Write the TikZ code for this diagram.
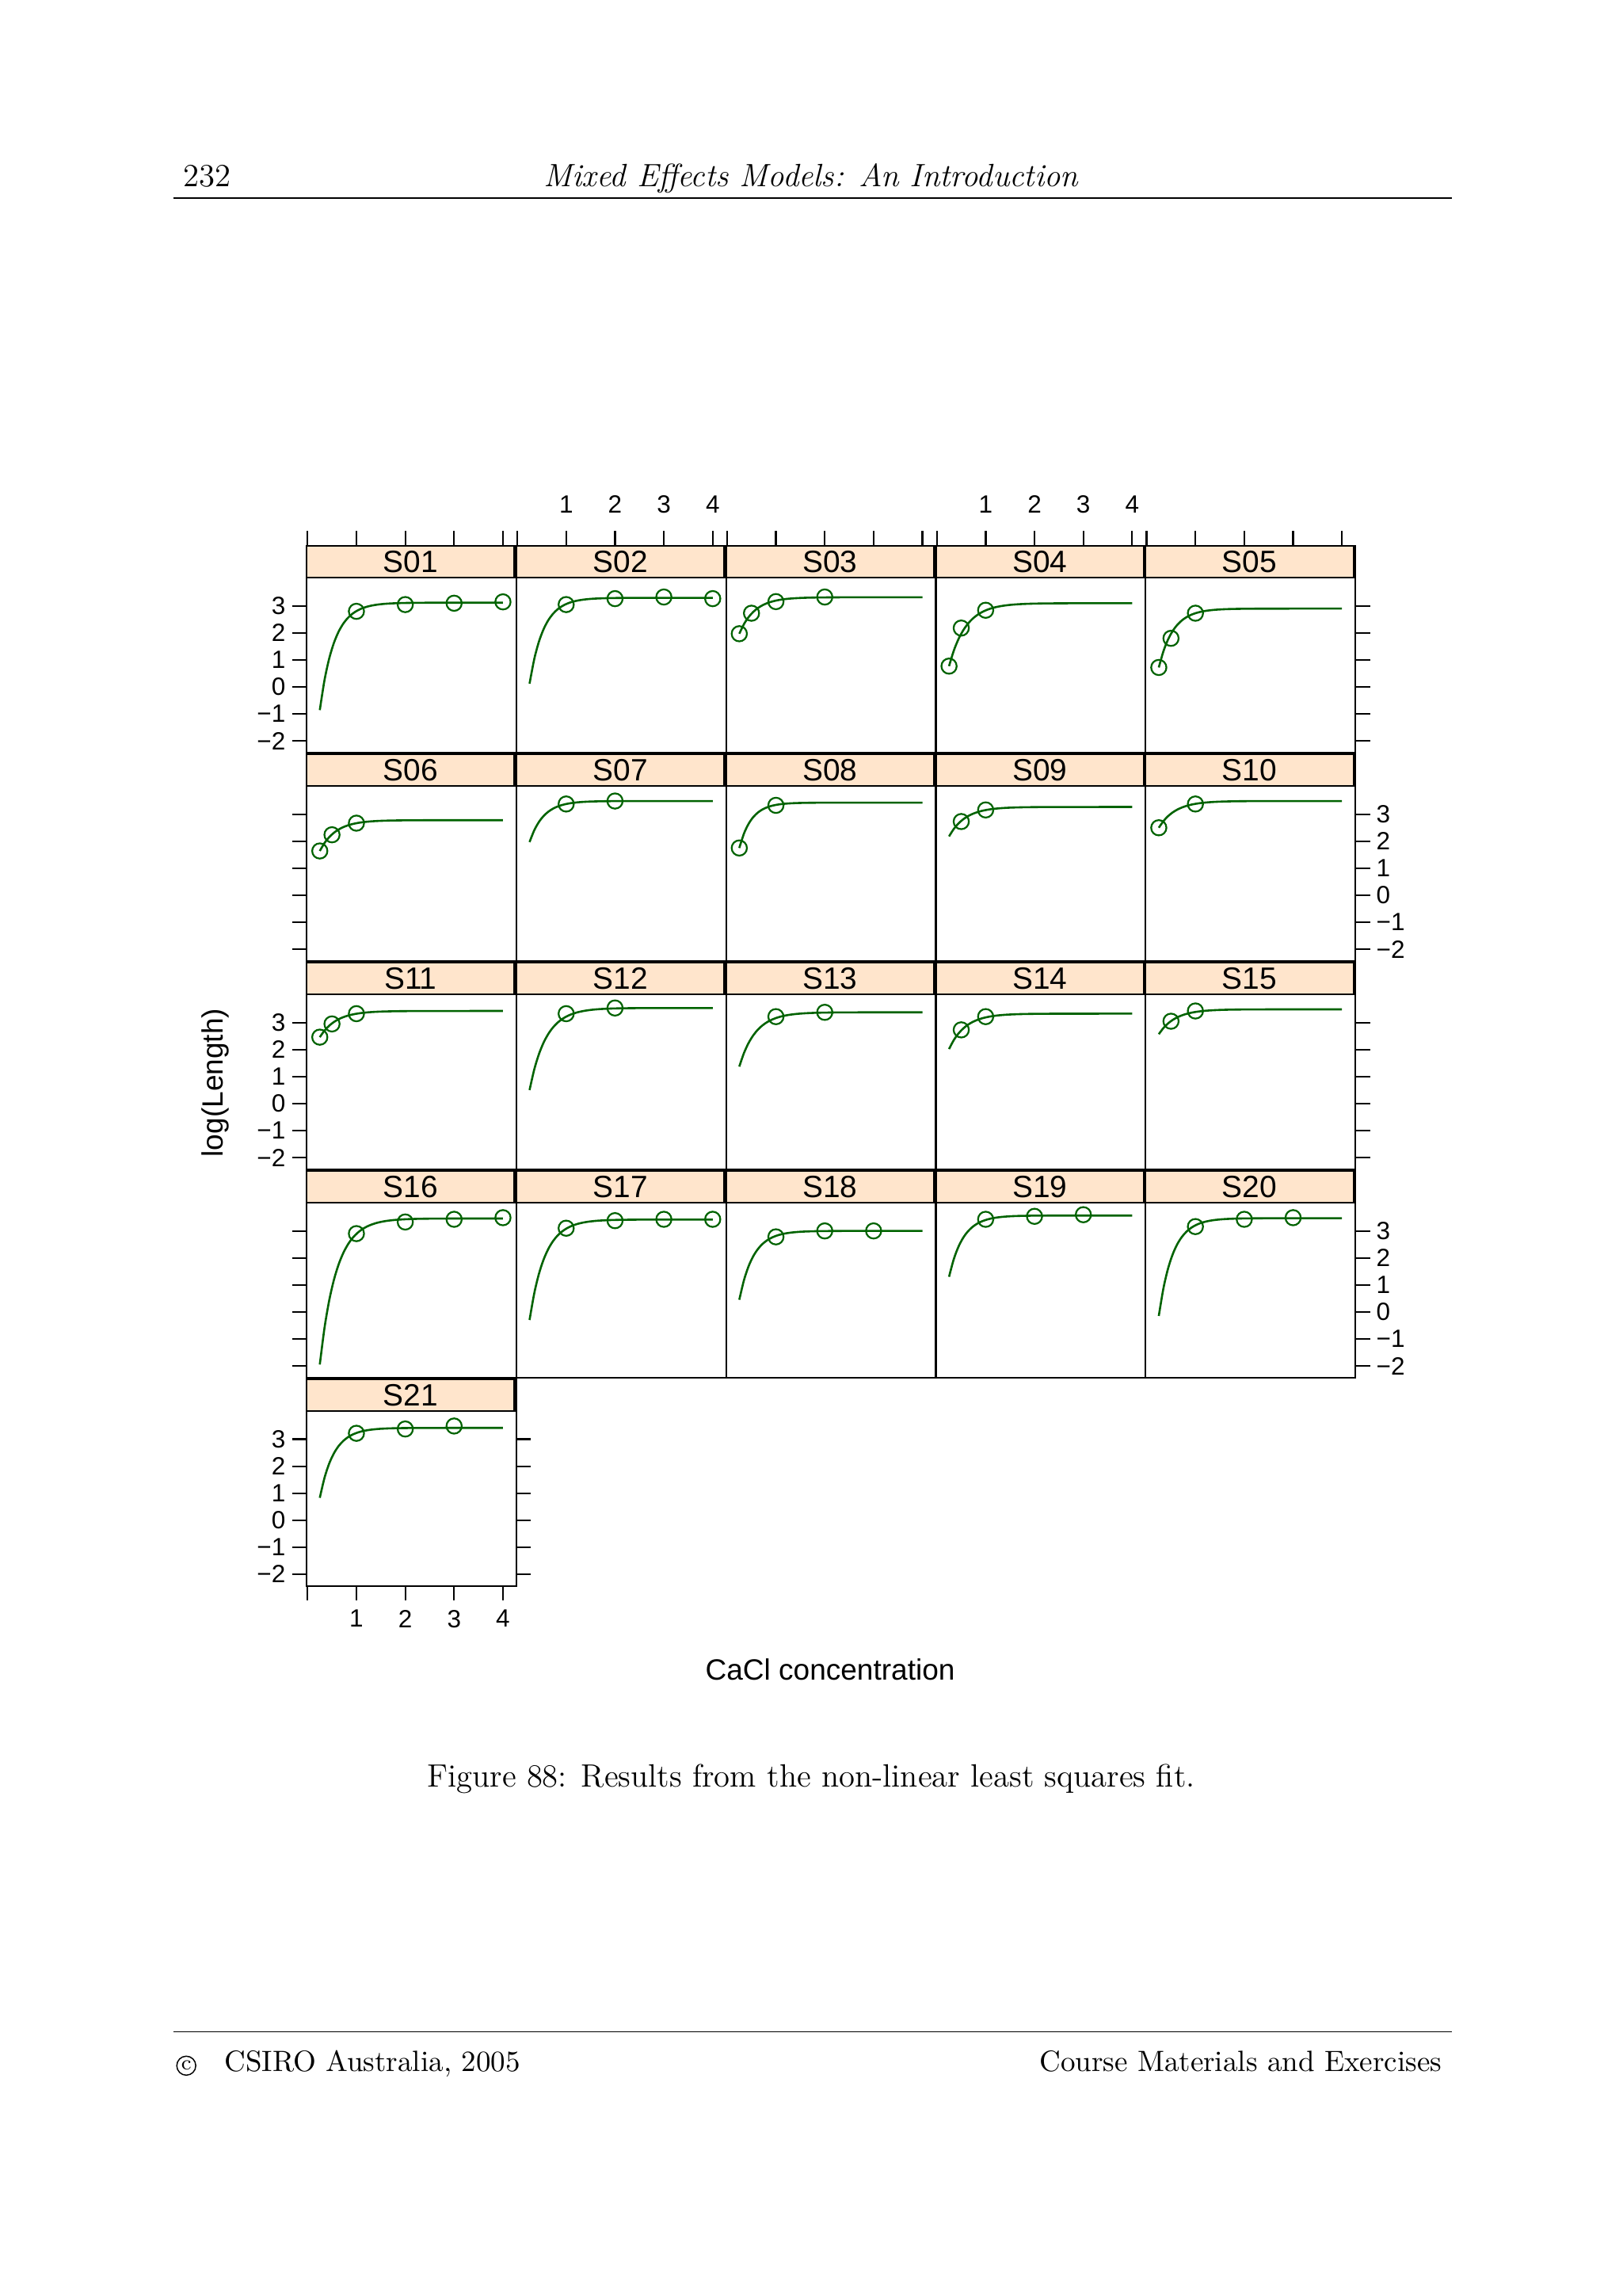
\documentclass[tikz,border=0pt]{standalone}
\usepackage{fontspec}
\newfontfamily\panelfont{Liberation Sans}
\definecolor{stripc}{HTML}{FFE5CC}
\definecolor{fitg}{rgb}{0,0.39,0}
\begin{document}
\begin{tikzpicture}[x=0.5pt,y=-0.5pt,
  stripbox/.style={draw=black,fill=stripc,line width=0.6pt,minimum width=70.9pt,minimum height=10.9pt,inner sep=0pt,anchor=north west,outer sep=0pt,font=\panelfont\fontsize{10.5}{12}\selectfont},
  frame/.style={draw=black,line width=0.6pt},
  tick/.style={line width=0.6pt},
  lab/.style={font=\panelfont\fontsize{8.5}{10}\selectfont,inner sep=1pt},
  curve/.style={draw=fitg,line width=0.7pt},
  pt/.style={draw=fitg,line width=0.6pt}]
\useasboundingbox[fill=white] (0,0) rectangle (1106,1565);
% header / footer
\node[anchor=base west,font=\fontsize{11}{13}\selectfont] (pg) at (118,127) {232};
\node[anchor=base,font=\itshape\fontsize{11}{13}\selectfont] (ttl) at (553,127) {Mixed Effects Models: An Introduction};
\draw[line width=0.4pt] (118,135) -- (990,135);
\draw[line width=0.4pt] (118,1385) -- (990,1385);
\node[circle,draw,line width=0.4pt,inner sep=0.6pt,font=\fontsize{7}{8}\selectfont] (cc) at (127,1408) {c};
\node[anchor=base west,font=\fontsize{10}{12}\selectfont] (cp) at (146,1412) {CSIRO Australia, 2005};
\node[anchor=base east,font=\fontsize{10}{12}\selectfont] (cm) at (990,1412) {Course Materials and Exercises};
\node[anchor=base,font=\fontsize{11}{13}\selectfont] (cap) at (553,1218) {Figure 88: Results from the non-linear least squares fit.};
\node[font=\panelfont\fontsize{10}{12}\selectfont] (xl) at (566,1138) {CaCl concentration};
\node[font=\panelfont\fontsize{10}{12}\selectfont,rotate=90] (yl) at (147,738) {log(Length)};
% panel macro: #1 col, #2 row, #3 name, #4 A, #5 y0, #6 k, #7 x0, #8 points
\newcommand{\mypanel}[8]{%
  \pgfmathsetmacro{\PX}{209+143*(#1-1)}%
  \pgfmathsetmacro{\PY}{372+142*(#2-1)}%
  \draw[frame] (\PX,\PY) rectangle ++(143,141);
  \node[stripbox] (#3) at (\PX,\PY) {#3};
  \begin{scope}[shift={(\PX+0.7,\PY+96.2)},x=16.65pt,y=9.2pt]
    \draw[curve] plot[domain=#7:4,samples=40,smooth] (\x,{#4-(#4-#5)*exp(-#6*(\x-#7))});
    \foreach \qa/\qb in {#8} \draw[pt] (\qa,\qb) circle[radius=2.6pt];
  \end{scope}}
\mypanel{1}{1}{S01}{3.12}{-0.86}{3.4}{0.25}{1/2.8,2/3.05,3/3.1,4/3.15}
\mypanel{2}{1}{S02}{3.3}{0.12}{3.5}{0.25}{1/3.05,2/3.27,3/3.33,4/3.27}
\mypanel{3}{1}{S03}{3.32}{1.97}{3.2}{0.25}{0.25/1.97,0.5/2.73,1/3.16,2/3.33}
\mypanel{4}{1}{S04}{3.1}{0.77}{2.9}{0.25}{0.25/0.77,0.5/2.18,1/2.84}
\mypanel{5}{1}{S05}{2.9}{0.72}{3.4}{0.25}{0.25/0.72,0.5/1.8,1/2.73}
\mypanel{1}{2}{S06}{2.78}{1.64}{3.1}{0.25}{0.25/1.64,0.5/2.24,1/2.67}
\mypanel{2}{2}{S07}{3.49}{1.97}{3.5}{0.25}{1/3.38,2/3.49}
\mypanel{3}{2}{S08}{3.43}{1.75}{4}{0.25}{0.25/1.75,1/3.33}
\mypanel{4}{2}{S09}{3.27}{2.18}{3}{0.25}{0.5/2.73,1/3.16}
\mypanel{5}{2}{S10}{3.49}{2.5}{3}{0.25}{0.25/2.5,1/3.38}
\mypanel{1}{3}{S11}{3.43}{2.46}{3}{0.25}{0.25/2.46,0.5/2.95,1/3.33}
\mypanel{2}{3}{S12}{3.54}{0.5}{3}{0.25}{1/3.33,2/3.54}
\mypanel{3}{3}{S13}{3.38}{1.37}{3}{0.25}{1/3.22,2/3.38}
\mypanel{4}{3}{S14}{3.33}{2.02}{3}{0.25}{0.5/2.73,1/3.22}
\mypanel{5}{3}{S15}{3.49}{2.57}{3}{0.25}{0.5/3.05,1/3.43}
\mypanel{1}{4}{S16}{3.46}{-1.95}{3}{0.25}{1/2.9,2/3.33,3/3.43,4/3.49}
\mypanel{2}{4}{S17}{3.42}{-0.3}{3.2}{0.25}{1/3.1,2/3.38,3/3.43,4/3.43}
\mypanel{3}{4}{S18}{3.0}{0.45}{3.5}{0.25}{1/2.78,2/3.0,3/3.0}
\mypanel{4}{4}{S19}{3.57}{1.3}{3.5}{0.25}{1/3.43,2/3.54,3/3.6}
\mypanel{5}{4}{S20}{3.47}{-0.15}{3.5}{0.25}{1/3.16,2/3.43,3/3.49}
\mypanel{1}{5}{S21}{3.42}{0.83}{3.5}{0.25}{1/3.22,2/3.38,3/3.49}
% y axes
\foreach \r in {1,...,5}{
  \foreach \v/\t in {3/3,2/2,1/1,0/0,-1/\textminus1,-2/\textminus2}{
    \pgfmathsetmacro{\yy}{372+142*(\r-1)+41+18.4*(3-\v)}
    \draw[tick] (199,\yy) -- (209,\yy);
    \ifodd\r \node[lab,anchor=east] at (197,\yy) {\t};\fi
    \ifnum\r<5
      \draw[tick] (924,\yy) -- (934,\yy);
      \ifodd\r\else \node[lab,anchor=west] at (936,\yy) {\t};\fi
    \else
      \draw[tick] (352,\yy) -- (362,\yy);
    \fi
  }}
% x axes
\foreach \c in {1,...,5}{
  \foreach \u in {0,...,4}{
    \pgfmathsetmacro{\xx}{209+143*(\c-1)+0.7+33.3*\u}
    \draw[tick] (\xx,372) -- (\xx,362);
    \ifodd\c\else \ifnum\u>0 \node[lab,anchor=south] at (\xx,352) {\u};\fi\fi
  }}
\foreach \u in {0,...,4}{
  \pgfmathsetmacro{\xx}{209.7+33.3*\u}
  \draw[tick] (\xx,1081) -- (\xx,1091);
  \ifnum\u>0 \node[lab,anchor=north] at (\xx,1095) {\u};\fi}
\end{tikzpicture}
\end{document}
